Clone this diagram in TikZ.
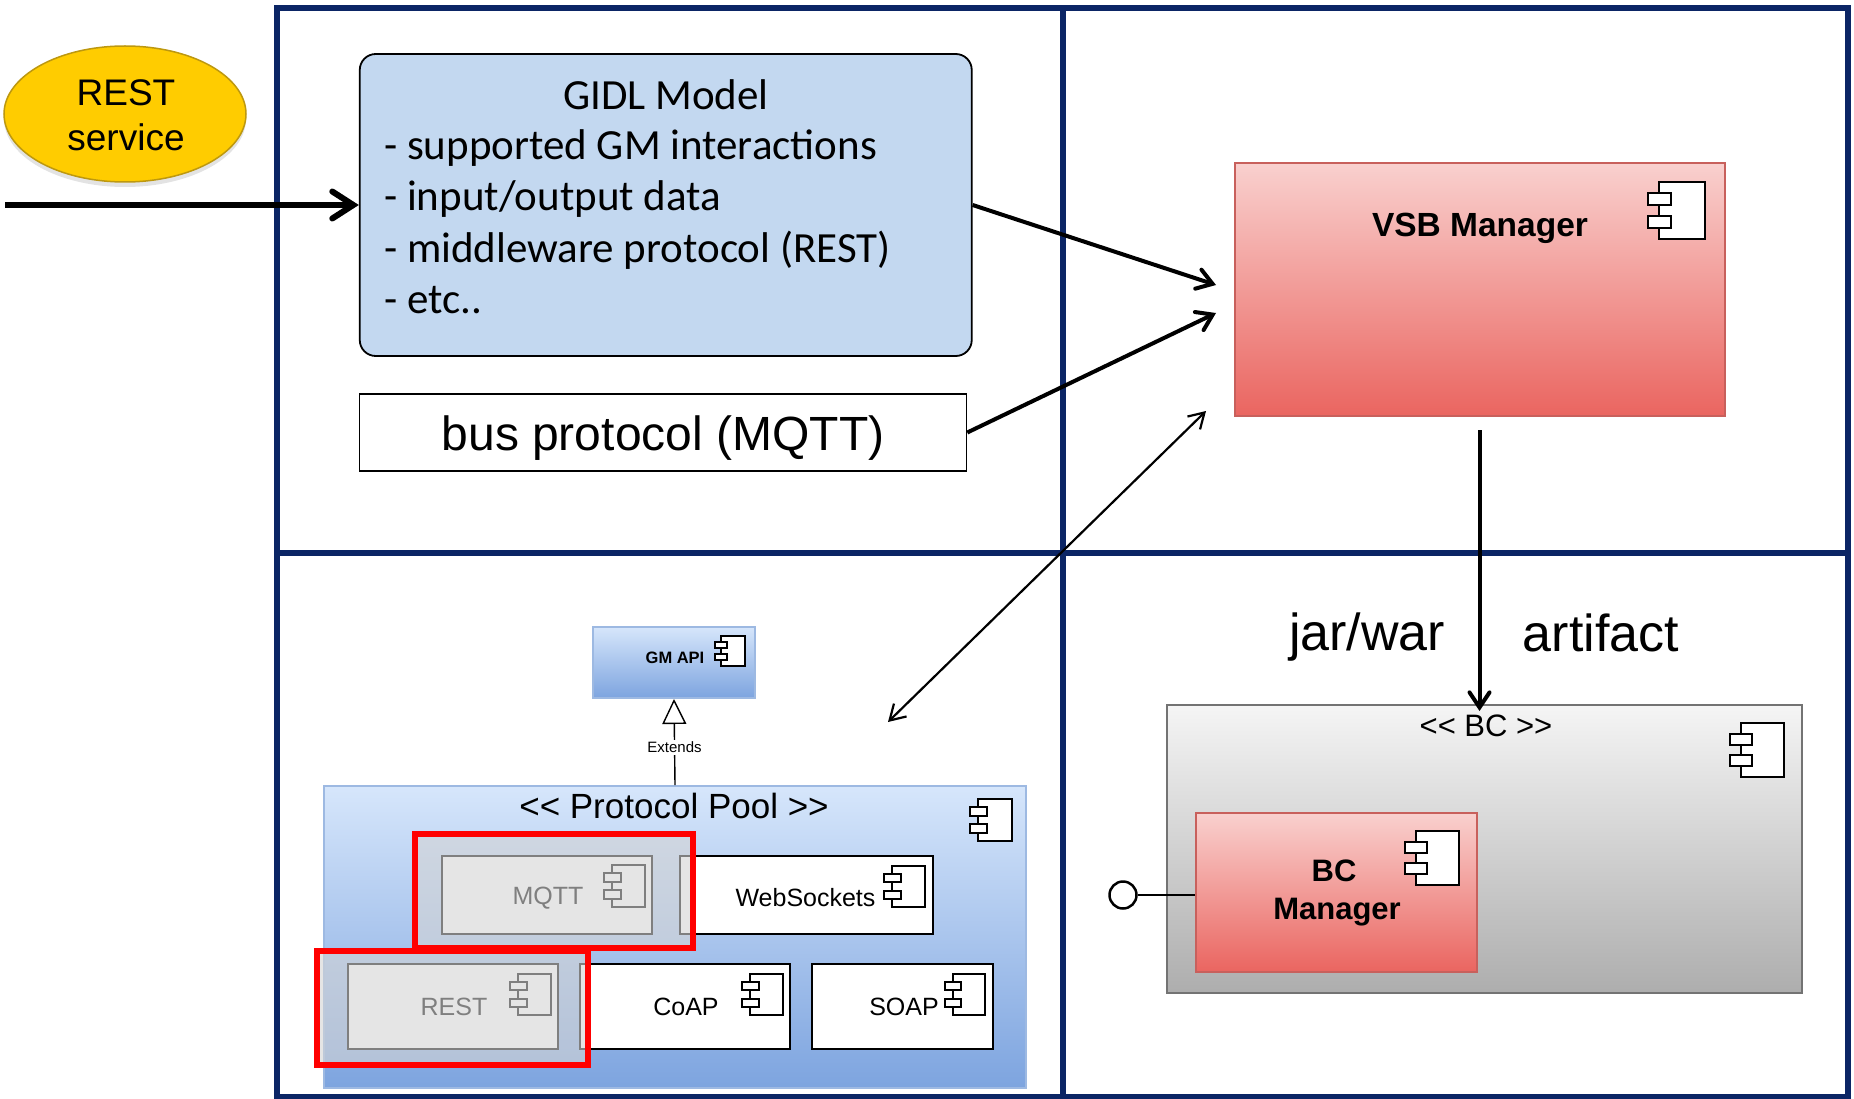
\documentclass[tikz,border=0pt]{standalone}
\usepackage{fontspec}
\setmainfont{Liberation Sans}
\newfontfamily\gidlfont{Carlito}
\usetikzlibrary{arrows.meta,shapes.geometric,shadows}
\newcommand{\fsz}[1]{\fontsize{#1}{#1}\selectfont}
\newcommand{\arwthick}{-{Straight Barb[length=21pt,width=27pt,line cap=round]}}
\newcommand{\arwmid}{-{Straight Barb[length=15pt,width=20pt,line cap=round]}}
\newcommand{\arwboth}{{Straight Barb[length=15pt,width=18pt]}-{Straight Barb[length=15pt,width=18pt]}}
\newcommand{\arwext}{-{Triangle[open,fill=white,length=25pt,width=24pt]}}
% left, top, width, height
\newcommand{\cmpicon}[4]{
\begin{scope}[shift={(#1,#2)},x=#3pt,y=-#4pt]
\draw[iconline] (.2,0) rectangle (1,1);
\draw[iconline] (0,.2) rectangle (.41,.4);
\draw[iconline] (0,.6) rectangle (.41,.8);
\end{scope}
}
\definecolor{framec}{HTML}{0B2565}
\definecolor{bluetop}{HTML}{D6E6FB}
\definecolor{bluebot}{HTML}{7DA4DF}
\definecolor{blueline}{HTML}{9DB9E2}
\definecolor{redtop}{HTML}{F9D0CE}
\definecolor{redbot}{HTML}{EA6560}
\definecolor{redline}{HTML}{C8605C}
\definecolor{gidlfill}{HTML}{C3D8F0}
\definecolor{svcfill}{HTML}{FFCC00}
\definecolor{svcline}{HTML}{BD980F}
\tikzset{
  iconline/.style={draw=black,fill=white,line width=2pt},
  plainbox/.style={draw=black,fill=white,line width=2pt},
  bluebox/.style={draw=blueline,line width=2pt,shade,top color=bluetop,bottom color=bluebot},
  redbox/.style={draw=redline,line width=2.5pt,shade,top color=redtop,bottom color=redbot},
  graybox/.style={draw=black!55,line width=2.5pt,shade,top color=black!4,bottom color=black!32},
  washbox/.style={draw=red,line width=6pt,fill=black!17,fill opacity=.6},
  gidltxt/.style={anchor=base west,inner sep=0pt,font=\gidlfont\fsz{43}},
  lbl/.style={inner sep=0pt,font=\fsz{25}},
  blbl/.style={inner sep=0pt,font=\bfseries\fsz{31}},
}
\begin{document}
\begin{tikzpicture}[x=1pt,y=-1pt]
\useasboundingbox (0,0) rectangle (1854,1099);
%frame
\draw[framec,line width=6pt] (277,8) rectangle (1848,1097);
\draw[framec,line width=6pt] (1063,8) -- (1063,1097);
\draw[framec,line width=6pt] (277,553) -- (1848,553);
%rest service
\node[ellipse,draw=svcline,line width=1.5pt,fill=svcfill,minimum width=242pt,minimum height=136pt,inner sep=0pt,
  drop shadow={opacity=.22,shadow xshift=0pt,shadow yshift=-5pt}] (svc) at (125,114) {};
\node[inner sep=0pt,font=\fsz{37}] (svc1) at (126,93) {REST};
\node[inner sep=0pt,font=\fsz{37}] (svc2) at (126,137) {service};
%model
\node[draw=black,line width=1.8pt,fill=gidlfill,rounded corners=16pt,minimum width=612pt,minimum height=302pt] (gidl) at (665.75,205) {};
\node[gidltxt,anchor=base] (gidl0) at (666,110) {GIDL Model};
\node[gidltxt] (gidl1) at (384,160) {- supported GM interactions};
\node[gidltxt] (gidl2) at (384,211) {- input/output data};
\node[gidltxt] (gidl3) at (384,262) {- middleware protocol (REST)};
\node[gidltxt] (gidl4) at (384,313) {- etc..};
\node[draw=black,fill=white,line width=1.6pt,minimum width=607pt,minimum height=77pt] (bus) at (663,432.5) {};
\node[inner sep=0pt,font=\fsz{48}] (buslbl) at (663,438) {bus protocol (MQTT)};
%vsb manager
\node[redbox,minimum width=490pt,minimum height=253pt] (vsb) at (1480,289.5) {};
\node[blbl,font=\bfseries\fsz{33.5}] (vsblbl) at (1480,228) {VSB Manager};
\cmpicon{1647.5}{182}{57.5}{57}
%gm api
\node[bluebox,minimum width=162pt,minimum height=71pt] (gmapi) at (674,662.5) {};
\node[inner sep=0pt,font=\bfseries\fsz{16.5}] (gmlbl) at (675,658) {GM API};
\cmpicon{715}{636}{29.5}{30}
%protocol pool
\node[bluebox,minimum width=702pt,minimum height=302pt] (pool) at (675,937) {};
\node[inner sep=0pt,font=\fsz{35}] (poollbl) at (674,806) {{<}{<} Protocol Pool {>}{>}};
\cmpicon{970}{799}{42}{42}
\draw[line width=1.4pt,\arwext] (pool.north) -- node[pos=.44,fill=white,inner sep=2pt,font=\fsz{15}] (extlbl) {Extends} (gmapi.south);
\node[plainbox,minimum width=210pt,minimum height=78pt] (mqtt) at (547,895) {};
\node[lbl] (mqttlbl) at (548,898) {MQTT};
\cmpicon{604}{865}{41}{42}
\node[plainbox,minimum width=253pt,minimum height=78pt] (web) at (806.5,895) {};
\node[lbl] (weblbl) at (805.5,898) {WebSockets};
\cmpicon{884}{866}{41}{41}
\node[plainbox,minimum width=210pt,minimum height=85pt] (rest) at (453,1006.5) {};
\node[lbl] (restlbl) at (454,1007) {REST};
\cmpicon{510}{974}{41}{41}
\node[plainbox,minimum width=210pt,minimum height=85pt] (coap) at (685,1006.5) {};
\node[lbl] (coaplbl) at (686,1007) {CoAP};
\cmpicon{742}{974}{41}{41}
\node[plainbox,minimum width=181pt,minimum height=85pt] (soap) at (902.5,1006.5) {};
\node[lbl] (soaplbl) at (904,1007) {SOAP};
\cmpicon{945}{974}{40}{41}
\node[washbox,minimum width=278pt,minimum height=114pt] (mqttmark) at (554,891) {};
\node[washbox,minimum width=271pt,minimum height=114pt] (restmark) at (452.5,1008) {};
%bc
\node[graybox,minimum width=635pt,minimum height=288pt] (bc) at (1484.5,849) {};
\node[inner sep=0pt,font=\fsz{31}] (bclbl) at (1486,726) {{<}{<} BC {>}{>}};
\cmpicon{1730}{723}{54}{54}
\node[redbox,minimum width=281pt,minimum height=159pt] (bcm) at (1336.5,892.5) {};
\node[blbl] (bcm1) at (1334,871) {BC};
\node[blbl] (bcm2) at (1337,912) {Manager};
\cmpicon{1405}{831}{54}{54}
\node[circle,draw=black,line width=2.5pt,fill=white,minimum size=27pt,inner sep=0pt] (iface) at (1123,895) {};
\draw[line width=2.5pt] (iface.east) -- (iface.east -| bcm.west);
\node[inner sep=0pt,font=\fsz{52}] (jar) at (1367,637) {jar/war};
\node[inner sep=0pt,font=\fsz{52}] (art) at (1601,633) {artifact};
%connectors
\coordinate (start) at (5,205);
\coordinate (vsbin1) at (1216,285);
\coordinate (vsbin2) at (1216,313);
\coordinate (both1) at (1206,411);
\coordinate (both2) at (888,722);
\coordinate (vsbout) at (1479.5,430);
\coordinate (bcin) at (1479.5,711);
\draw[line width=6pt,\arwthick] (start) -- (gidl.west);
\draw[line width=4pt,\arwmid] (gidl.east) -- (vsbin1);
\draw[line width=4pt,\arwmid] (bus.east) -- (vsbin2);
\draw[line width=2.2pt,\arwboth] (both1) -- (both2);
\draw[line width=4pt,\arwmid] (vsbout) -- (bcin);
\end{tikzpicture}
\end{document}
